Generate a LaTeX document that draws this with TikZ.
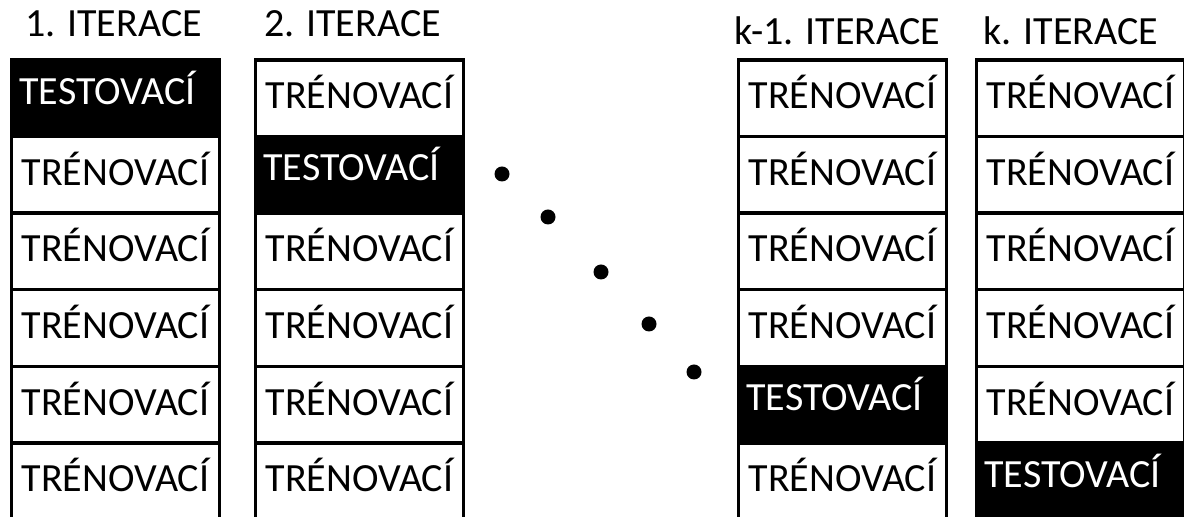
\documentclass[tikz,border=0pt]{standalone}
\usepackage{fontspec}
\setmainfont{Carlito}
\usepackage{tikz}

\tikzset{
  cell/.style={shape=rectangle,draw=black,line width=1.7pt,outer sep=0pt,inner sep=0pt,minimum width=104pt,minimum height=38.3pt},
  train/.style={cell,text height=14pt,text depth=3.5pt},
  test/.style={cell,fill=black,text=white,text height=14pt,text depth=8pt,text width=96pt,align=left},
  title/.style={anchor=base,inner sep=0pt},
  dot/.style={shape=circle,fill=black,inner sep=0pt,minimum size=7.5pt}
}

\begin{document}
\begin{tikzpicture}[x=0.5pt,y=-0.5pt,font=\fontsize{20}{24}\selectfont]
        \useasboundingbox (0,0) rectangle (1184,517);

        \node[title] (ta) at (113.5, 37) {1. ITERACE};
        \node[title] (tb) at (352.5, 37) {2. ITERACE};
        \node[title] (tc) at (837.5, 45) {k-1. ITERACE};
        \node[title] (td) at (1071, 45)  {k. ITERACE};

        \node[test]  (a1) at (115.5, 98.3)  {TESTOVACÍ};
        \node[train] (a2) at (115.5, 174.9) {TRÉNOVACÍ};
        \node[train] (a3) at (115.5, 251.5) {TRÉNOVACÍ};
        \node[train] (a4) at (115.5, 328.1) {TRÉNOVACÍ};
        \node[train] (a5) at (115.5, 404.7) {TRÉNOVACÍ};
        \node[train] (a6) at (115.5, 481.3) {TRÉNOVACÍ};

        \node[train] (b1) at (359.5, 98.3)  {TRÉNOVACÍ};
        \node[test]  (b2) at (359.5, 174.9) {TESTOVACÍ};
        \node[train] (b3) at (359.5, 251.5) {TRÉNOVACÍ};
        \node[train] (b4) at (359.5, 328.1) {TRÉNOVACÍ};
        \node[train] (b5) at (359.5, 404.7) {TRÉNOVACÍ};
        \node[train] (b6) at (359.5, 481.3) {TRÉNOVACÍ};

        \node[train] (c1) at (842.5, 98.3)  {TRÉNOVACÍ};
        \node[train] (c2) at (842.5, 174.9) {TRÉNOVACÍ};
        \node[train] (c3) at (842.5, 251.5) {TRÉNOVACÍ};
        \node[train] (c4) at (842.5, 328.1) {TRÉNOVACÍ};
        \node[test]  (c5) at (842.5, 404.7) {TESTOVACÍ};
        \node[train] (c6) at (842.5, 481.3) {TRÉNOVACÍ};

        \node[train] (d1) at (1080.5, 98.3)  {TRÉNOVACÍ};
        \node[train] (d2) at (1080.5, 174.9) {TRÉNOVACÍ};
        \node[train] (d3) at (1080.5, 251.5) {TRÉNOVACÍ};
        \node[train] (d4) at (1080.5, 328.1) {TRÉNOVACÍ};
        \node[train] (d5) at (1080.5, 404.7) {TRÉNOVACÍ};
        \node[test]  (d6) at (1080.5, 481.3) {TESTOVACÍ};

        \node[dot] (p1) at (502, 174) {};
        \node[dot] (p2) at (548, 217) {};
        \node[dot] (p3) at (601, 272) {};
        \node[dot] (p4) at (649, 324) {};
        \node[dot] (p5) at (694, 372) {};
\end{tikzpicture}
\end{document}
